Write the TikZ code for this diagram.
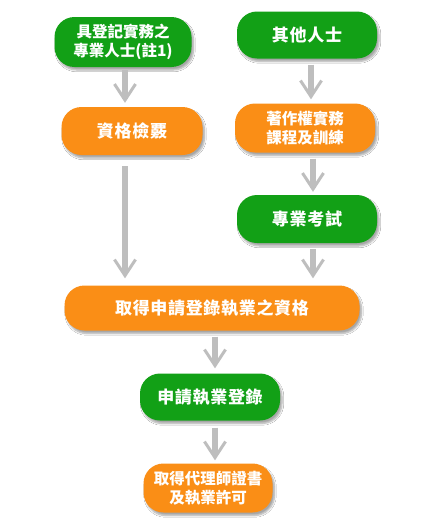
\documentclass[tikz,border=0pt]{standalone}
\usepackage{fontspec}
\newfontfamily\cjk{Noto Sans CJK TC}[LetterSpace=4]
\newfontfamily\cjktight{Noto Sans CJK TC}
\usetikzlibrary{arrows.meta,positioning,shadows.blur}
\definecolor{stepgreen}{RGB}{18,160,22}
\definecolor{steporange}{RGB}{250,142,22}
\definecolor{flowgrey}{RGB}{190,190,190}

\begin{document}
\begin{tikzpicture}[x=1pt, y=1pt,
    pill/.style={rectangle, rounded corners=20pt, text=white, align=center, inner sep=2pt,
      font=\cjk\bfseries\fontsize{17}{19}\selectfont, minimum width=140pt, minimum height=48pt,
      blur shadow={shadow xshift=2pt, shadow yshift=-3pt, shadow blur steps=6, shadow opacity=35}},
    greenpill/.style={pill, fill=stepgreen},
    orangepill/.style={pill, fill=steporange},
    twoline/.style={font=\cjktight\bfseries\fontsize{15.5}{19}\selectfont},
    flow/.style={-{Straight Barb[length=16pt, width=21pt, line width=3pt]}, line width=6pt,
      flowgrey, shorten <=6pt, shorten >=4pt}]
    \useasboundingbox[fill=white] (0,0) rectangle (422,-525);

    % top row
    \node[greenpill, twoline, minimum width=137pt, minimum height=50pt] (reg) at (123,-42) {具登記實務之\\專業人士(註1)};
    \node[greenpill, minimum height=47pt] (other) at (307,-35) {其他人士};

    % second row
    \node[orangepill, minimum width=141pt] (review) at (132,-131) {資格檢覈};
    \node[orangepill, twoline, minimum height=49pt] (course) at (305,-128) {著作權實務\\課程及訓練};

    \node[greenpill] (exam) at (307,-219) {專業考試};

    % merged path
    \node[orangepill, minimum width=295pt, minimum height=45pt] (qual) at (212,-308) {取得申請登錄執業之資格};
    \node[greenpill, minimum height=47pt] (apply) at (210,-397) {申請執業登錄};
    \node[orangepill, twoline, minimum width=129pt, minimum height=49pt] (license) at (208,-488) {取得代理師證書\\及執業許可};

    % connectors
    \draw[flow, shorten <=3pt] ([xshift=2pt]reg.south) -- ([xshift=2pt]reg.south |- review.north);
    \draw[flow] ([xshift=4pt]other.south) -- ([xshift=4pt]other.south |- course.north);
    \draw[flow, shorten >=3pt] ([xshift=8pt]course.south) -- ([xshift=8pt]course.south |- exam.north);
    \draw[flow, shorten <=11pt, shorten >=7pt] ([xshift=2pt]reg.south |- review.south) -- ([xshift=2pt]reg.south |- qual.north);
    \draw[flow, shorten >=7pt] ([xshift=6pt]exam.south) -- ([xshift=6pt]exam.south |- qual.north);
    \draw[flow, shorten >=5pt] ([xshift=3pt]qual.south) -- ([xshift=3pt]qual.south |- apply.north);
    \draw[flow, shorten <=7pt, shorten >=3pt] ([xshift=5pt]apply.south) -- ([xshift=5pt]apply.south |- license.north);
\end{tikzpicture}
\end{document}
